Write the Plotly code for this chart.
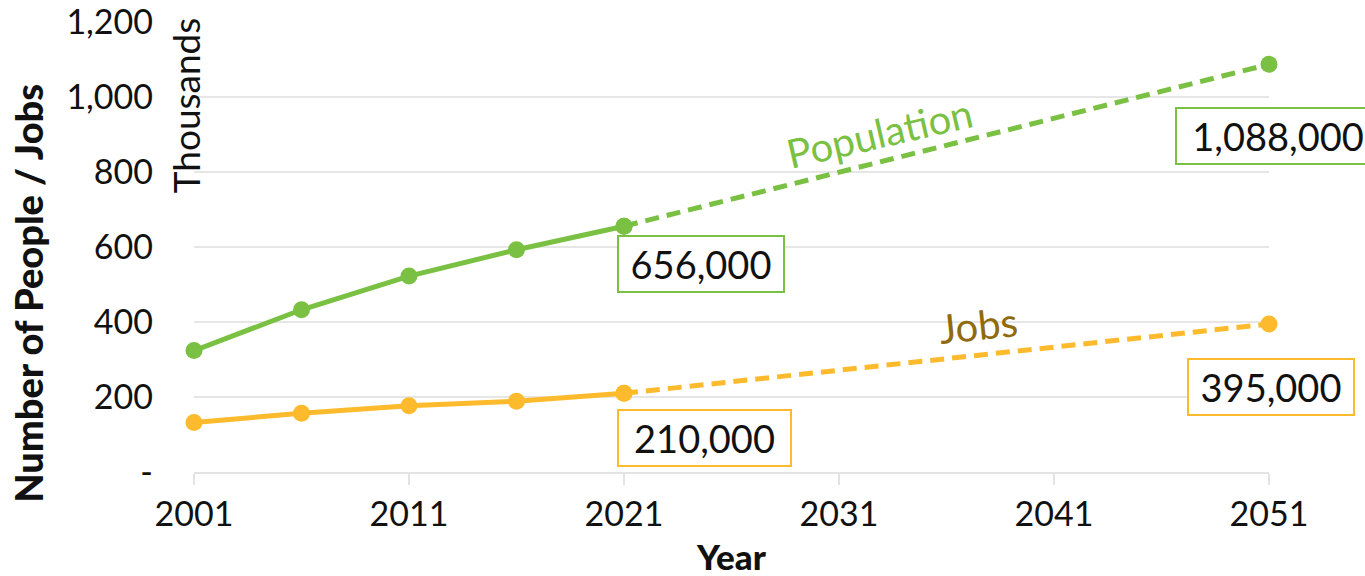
import plotly.graph_objects as go

# ---- data (thousands) ----
years_hist = [2001, 2006, 2011, 2016, 2021]
pop_hist = [324, 433, 523, 593, 656]
jobs_hist = [132, 157, 177, 189, 210]
years_proj = [2021, 2051]
pop_proj = [656, 1088]
jobs_proj = [210, 395]

x_ticks = [2001, 2011, 2021, 2031, 2041, 2051]
y_ticks = [0, 200, 400, 600, 800, 1000, 1200]
y_ticktext = ["-", "200", "400", "600", "800", "1,000", "1,200"]

pop_label = "656,000"
pop_proj_label = "1,088,000"
jobs_label = "210,000"
jobs_proj_label = "395,000"

GREEN = "#7AC143"
YELLOW = "#FDBA2C"
JOBS_TXT = "#8F6A0E"
FONT = "Lato"

fig = go.Figure()

fig.add_trace(go.Scatter(x=years_hist, y=pop_hist, mode="lines+markers",
                         line=dict(color=GREEN, width=5), marker=dict(size=17, color=GREEN),
                         cliponaxis=False, showlegend=False))
fig.add_trace(go.Scatter(x=years_proj, y=pop_proj, mode="lines+markers",
                         line=dict(color=GREEN, width=5, dash="14px,8px"),
                         marker=dict(size=17, color=GREEN),
                         cliponaxis=False, showlegend=False))
fig.add_trace(go.Scatter(x=years_hist, y=jobs_hist, mode="lines+markers",
                         line=dict(color=YELLOW, width=5), marker=dict(size=17, color=YELLOW),
                         cliponaxis=False, showlegend=False))
fig.add_trace(go.Scatter(x=years_proj, y=jobs_proj, mode="lines+markers",
                         line=dict(color=YELLOW, width=5, dash="14px,8px"),
                         marker=dict(size=17, color=YELLOW),
                         cliponaxis=False, showlegend=False))

box_font = dict(family=FONT, size=38, color="#111111")

fig.add_annotation(x=years_hist[-1], y=pop_hist[-1], text=pop_label, showarrow=False,
                   xanchor="left", yanchor="top", xshift=-7, yshift=-9, width=156,
                   font=box_font, bordercolor=GREEN, borderwidth=2, borderpad=4, bgcolor="white")
fig.add_annotation(x=years_hist[-1], y=jobs_hist[-1], text=jobs_label, showarrow=False,
                   xanchor="left", yanchor="top", xshift=-7, yshift=-16, width=163,
                   font=box_font, bordercolor=YELLOW, borderwidth=2, borderpad=4, bgcolor="white")
fig.add_annotation(x=years_proj[-1], y=pop_proj[-1], text=pop_proj_label, showarrow=False,
                   xanchor="left", yanchor="top", xshift=-94, yshift=-43, width=194,
                   font=box_font, bordercolor=GREEN, borderwidth=2, borderpad=4, bgcolor="white")
fig.add_annotation(x=years_proj[-1], y=jobs_proj[-1], text=jobs_proj_label, showarrow=False,
                   xanchor="center", yanchor="top", xshift=2, yshift=-34, width=156,
                   font=box_font, bordercolor=YELLOW, borderwidth=2, borderpad=4, bgcolor="white")

# series labels
fig.add_annotation(x=2032.9, y=905, text="Population", showarrow=False, textangle=-13,
                   xanchor="center", yanchor="middle",
                   font=dict(family=FONT, size=40, color=GREEN))
fig.add_annotation(x=2037.5, y=392, text="Jobs", showarrow=False, textangle=-6,
                   xanchor="center", yanchor="middle",
                   font=dict(family=FONT, size=40, color=JOBS_TXT))

# axis titles
fig.add_annotation(xref="paper", yref="paper", x=0, y=0.396, xshift=-166,
                   xanchor="center", yanchor="middle", text="Number of People / Jobs",
                   textangle=-90, showarrow=False,
                   font=dict(family=FONT, size=38, color="#111111", weight=900))
fig.add_annotation(xref="paper", yref="paper", x=0, y=0.815, xshift=-9,
                   xanchor="center", yanchor="middle", text="Thousands",
                   textangle=-90, showarrow=False, font=dict(family=FONT, size=37, color="#111111"))
fig.add_annotation(xref="paper", yref="paper", x=0.5, y=0, yshift=-84,
                   xanchor="center", yanchor="middle", text="Year",
                   showarrow=False, font=dict(family=FONT, size=35, color="#111111", weight=900))

fig.update_layout(
    width=1365, height=576,
    margin=dict(l=194, r=96, t=22, b=104, autoexpand=False),
    paper_bgcolor="white", plot_bgcolor="white",
    font=dict(family=FONT, color="#111111"),
    xaxis=dict(range=[2001, 2051], tickvals=x_ticks, showgrid=False, zeroline=False,
               showline=True, linecolor="#E3E3E3", linewidth=1.5, automargin=False,
               ticks="outside", ticklen=11, tickcolor="#E3E3E3", tickwidth=1.5,
               tickfont=dict(family=FONT, size=34, color="#111111")),
    xaxis2=dict(range=[2001, 2051], tickvals=x_ticks, overlaying="x", anchor="y", side="bottom",
                showgrid=False, zeroline=False, showticklabels=False, automargin=False,
                ticks="inside", ticklen=10, tickcolor="#E3E3E3", tickwidth=1.5),
    yaxis=dict(range=[0, 1201], tickvals=y_ticks, ticktext=y_ticktext, showgrid=True,
               gridcolor="#E6E6E6", gridwidth=1.5, zeroline=False, showline=False,
               ticks="", ticklabelstandoff=40, automargin=False,
               tickfont=dict(family=FONT, size=34, color="#111111")),
)

fig.write_html("out.html")
